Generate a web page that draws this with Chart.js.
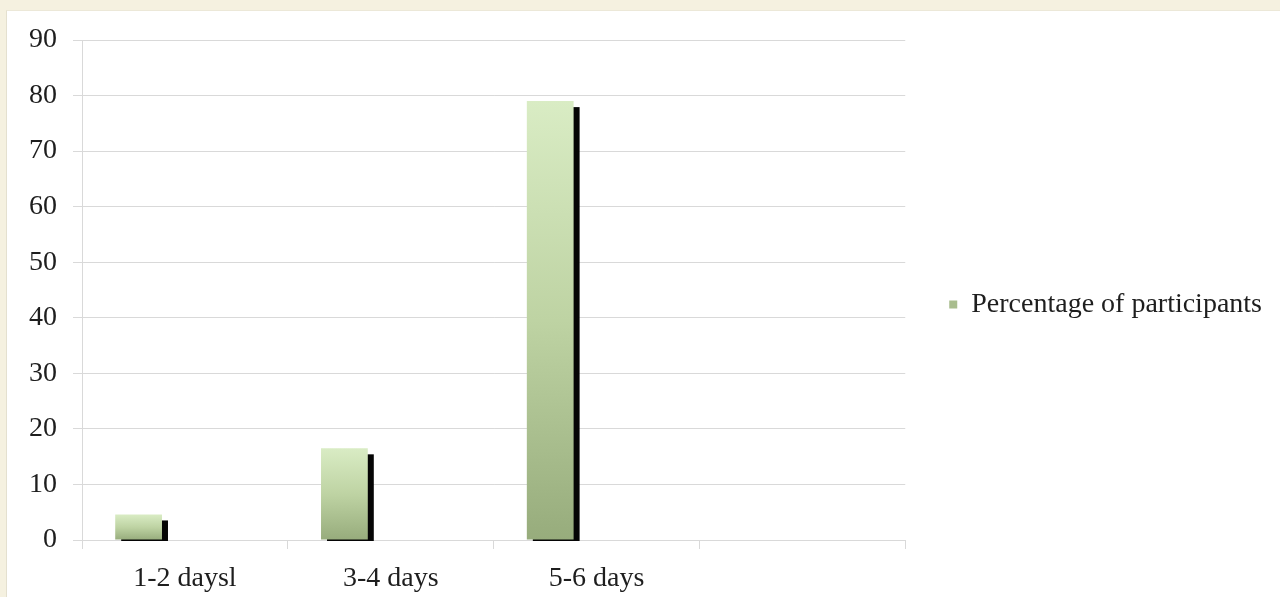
<!DOCTYPE html>
<html>
<head>
<meta charset="utf-8">
<script src="https://cdn.jsdelivr.net/npm/chart.js@4.4.1/dist/chart.umd.min.js"></script>
<style>
  html, body { margin: 0; padding: 0; background: #f5f1e0; overflow: hidden; }
  #card { position: absolute; left: 6px; top: 10px; right: 0; bottom: 0; background: #fff; border-left: 1px solid #e4e0cf; border-top: 1px solid #ece8d8; }
  #wrap { position: absolute; left: 0; top: 0; width: 1280px; height: 597px; }
</style>
</head>
<body>
<div id="card"></div>
<div id="wrap"><canvas id="mainChart" width="1280" height="597"></canvas></div>
<script>
const categories = ['1-2 daysl', '3-4 days', '5-6 days', ''];
const participants = [4.6, 16.5, 79, null];
const spacer = [null, null, null, null];
const yTicks = [0, 10, 20, 30, 40, 50, 60, 70, 80, 90];

const FONT = { family: '"Liberation Serif", "DejaVu Serif", serif', size: 28 };
const TEXT = '#1e1e1e';
const GRID = '#d9d9d9';

// per-bar vertical gradient, light at the top, olive at the base
function barFill(context) {
  const chart = context.chart;
  const y = chart.scales.y;
  const v = context.raw;
  if (!y || v == null || !chart.chartArea) return '#b8cc9e';
  const top = y.getPixelForValue(v);
  const base = y.getPixelForValue(0);
  const g = chart.ctx.createLinearGradient(0, top, 0, base);
  g.addColorStop(0, '#d9ecc4');
  g.addColorStop(0.5, '#bed3a3');
  g.addColorStop(1, '#97ac7c');
  return g;
}

// hard black drop shadow down and to the right of each bar
const barShadow = {
  id: 'barShadow',
  beforeDatasetsDraw(chart) {
    const meta = chart.getDatasetMeta(0);
    const ctx = chart.ctx;
    const base = chart.scales.y.getPixelForValue(0);
    ctx.save();
    ctx.fillStyle = '#050505';
    meta.data.forEach((bar, i) => {
      if (participants[i] == null) return;
      const p = bar.getProps(['x', 'y', 'width'], true);
      const left = p.x - p.width / 2 + 6;
      const top = p.y + 6;
      ctx.fillRect(left, top, p.width, base + 1 - top);
    });
    ctx.restore();
  }
};

// centre the legend on the card height rather than below the top padding
const legendLift = {
  id: 'legendLift',
  afterLayout(chart) {
    const lg = chart.legend;
    if (!lg) return;
    lg.top = 12;
    lg.bottom = chart.height;
  }
};

const ctx = document.getElementById('mainChart').getContext('2d');
new Chart(ctx, {
  type: 'bar',
  data: {
    labels: categories,
    datasets: [{
      label: 'Percentage of participants',
      data: participants,
      backgroundColor: barFill,
      borderWidth: 0,
      categoryPercentage: 0.9,
      barPercentage: 0.505
    }, {
      label: 'spacer',
      data: spacer,
      backgroundColor: 'rgba(0,0,0,0)',
      categoryPercentage: 0.9,
      barPercentage: 0.505
    }]
  },
  options: {
    responsive: false,
    animation: false,
    layout: { padding: { top: 40, left: 13, right: 8, bottom: 0 } },
    plugins: {
      tooltip: { enabled: false },
      legend: {
        position: 'right',
        align: 'center',
        maxWidth: 420,
        labels: {
          color: TEXT,
          font: FONT,
          boxWidth: 8,
          boxHeight: 8,
          padding: 44,
          generateLabels: chart => [{
            text: 'Percentage of participants',
            fillStyle: '#a9bd8e',
            strokeStyle: '#a9bd8e',
            lineWidth: 0,
            fontColor: TEXT,
            datasetIndex: 0
          }]
        }
      }
    },
    scales: {
      x: {
        afterFit: scale => { scale.height = 57; },
        grid: { display: true, drawOnChartArea: false, color: GRID, tickLength: 9, offset: true },
        border: { color: GRID },
        ticks: { color: TEXT, font: FONT, padding: 13, maxRotation: 0 }
      },
      y: {
        min: 0,
        max: 90,
        afterBuildTicks: axis => { axis.ticks = yTicks.map(v => ({ value: v })); },
        grid: { color: GRID, tickLength: 9 },
        border: { color: GRID },
        ticks: { color: TEXT, font: FONT, padding: 16 }
      }
    }
  },
  plugins: [barShadow, legendLift]
});
</script>
</body>
</html>
